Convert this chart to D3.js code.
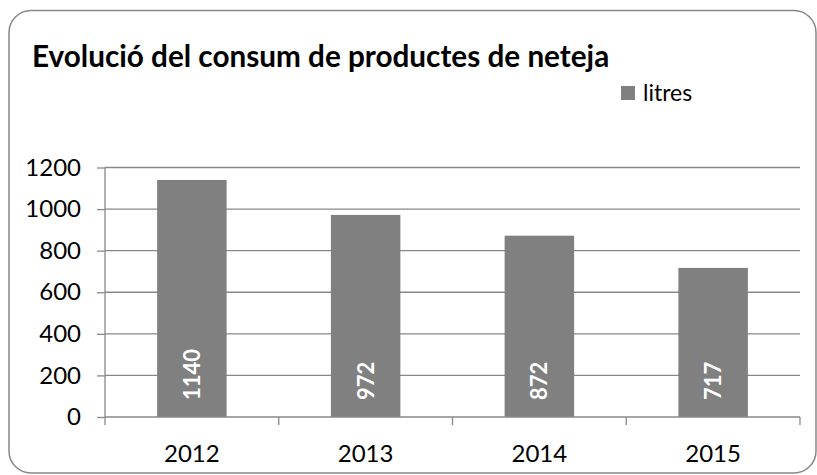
<!DOCTYPE html>
<html>
<head>
<meta charset="utf-8">
<script src="https://cdn.jsdelivr.net/npm/d3@7"></script>
<style>
  body { margin: 0; background: #fff; }
  svg { display: block; font-family: Lato, "Open Sans", sans-serif; }
</style>
</head>
<body>
<svg width="817" height="475"></svg>
<script>
// data
var years = ["2012", "2013", "2014", "2015"];
var litres = [1140, 972, 872, 717];
var yTicks = [0, 200, 400, 600, 800, 1000, 1200];
var title = "Evolució del consum de productes de neteja";
var seriesName = "litres";

var svg = d3.select("svg"),
	margin = {top: 167.5, right: 17, bottom: 58, left: 105},
	width = svg.attr("width") - margin.left - margin.right,
	height = 417 - margin.top;

var barColor = "#808080",
	lineColor = "#888888";

// chart border
svg.append("rect")
	.attr("x", 9)
	.attr("y", 10.5)
	.attr("width", 807)
	.attr("height", 462.5)
	.attr("rx", 22)
	.attr("fill", "#fff")
	.attr("stroke", lineColor)
	.attr("stroke-width", 1.5);

svg.append("text")
	.attr("x", 32)
	.attr("y", 67)
	.attr("font-size", 29.7)
	.attr("font-weight", "bold")
	.attr("fill", "#000")
	.text(title);

var g = svg.append("g").attr("transform", "translate(" + margin.left + "," + margin.top + ")");

var x = d3.scaleBand()
	.domain(years)
	.range([0, width])
	.padding(0);

var y = d3.scaleLinear()
	.domain([0, 1200])
	.range([height, 0]);

// gridlines
g.append("g")
	.selectAll("line")
	.data(yTicks.filter(function(d) { return d > 0; }))
	.enter().append("line")
		.attr("x1", 0)
		.attr("x2", width)
		.attr("y1", function(d) { return y(d); })
		.attr("y2", function(d) { return y(d); })
		.attr("stroke", lineColor)
		.attr("stroke-width", 1.3);

// bars
g.append("g")
	.selectAll("rect")
	.data(years)
	.enter().append("rect")
		.attr("x", function(d) { return x(d) + x.bandwidth() * 0.3; })
		.attr("y", function(d, i) { return y(litres[i]); })
		.attr("width", x.bandwidth() * 0.4)
		.attr("height", function(d, i) { return height - y(litres[i]); })
		.attr("fill", barColor);

// value labels
g.append("g")
	.selectAll("text")
	.data(years)
	.enter().append("text")
		.attr("transform", function(d) {
			return "translate(" + (x(d) + x.bandwidth() / 2) + "," + (height - 17) + ") rotate(-90)";
		})
		.attr("dy", "0.36em")
		.attr("font-size", 22)
		.attr("font-weight", "bold")
		.attr("fill", "#fff")
		.text(function(d, i) { return litres[i]; });

// y axis
var yAxis = g.append("g")
	.call(d3.axisLeft(y).tickValues(yTicks).tickFormat(d3.format("d")).tickSize(8).tickPadding(16));
yAxis.select(".domain").remove();
yAxis.attr("font-family", null).attr("font-size", null);
yAxis.selectAll(".tick line").attr("stroke", lineColor).attr("stroke-width", 1.3);
yAxis.selectAll(".tick text").attr("font-size", 24).attr("fill", "#000");
g.append("line")
	.attr("x1", 0).attr("x2", 0)
	.attr("y1", 0).attr("y2", height)
	.attr("stroke", lineColor).attr("stroke-width", 1.3);

// x axis
var xg = g.append("g").attr("transform", "translate(0," + height + ")");
xg.append("line")
	.attr("x1", 0).attr("x2", width)
	.attr("stroke", lineColor).attr("stroke-width", 1.3);
xg.selectAll(".xtick")
	.data(years.concat(["end"]))
	.enter().append("line")
		.attr("x1", function(d, i) { return i * x.step(); })
		.attr("x2", function(d, i) { return i * x.step(); })
		.attr("y1", 0).attr("y2", 8)
		.attr("stroke", lineColor).attr("stroke-width", 1.3);
xg.selectAll("text")
	.data(years)
	.enter().append("text")
		.attr("x", function(d) { return x(d) + x.bandwidth() / 2; })
		.attr("y", 44.5)
		.attr("text-anchor", "middle")
		.attr("font-size", 24)
		.attr("fill", "#000")
		.text(function(d) { return d; });

// legend
var legend = svg.append("g").attr("transform", "translate(621,86)");
legend.append("rect")
	.attr("width", 14)
	.attr("height", 14)
	.attr("fill", barColor);
legend.append("text")
	.attr("x", 22)
	.attr("y", 14.5)
	.attr("font-size", 23)
	.attr("fill", "#000")
	.text(seriesName);
</script>
</body>
</html>
